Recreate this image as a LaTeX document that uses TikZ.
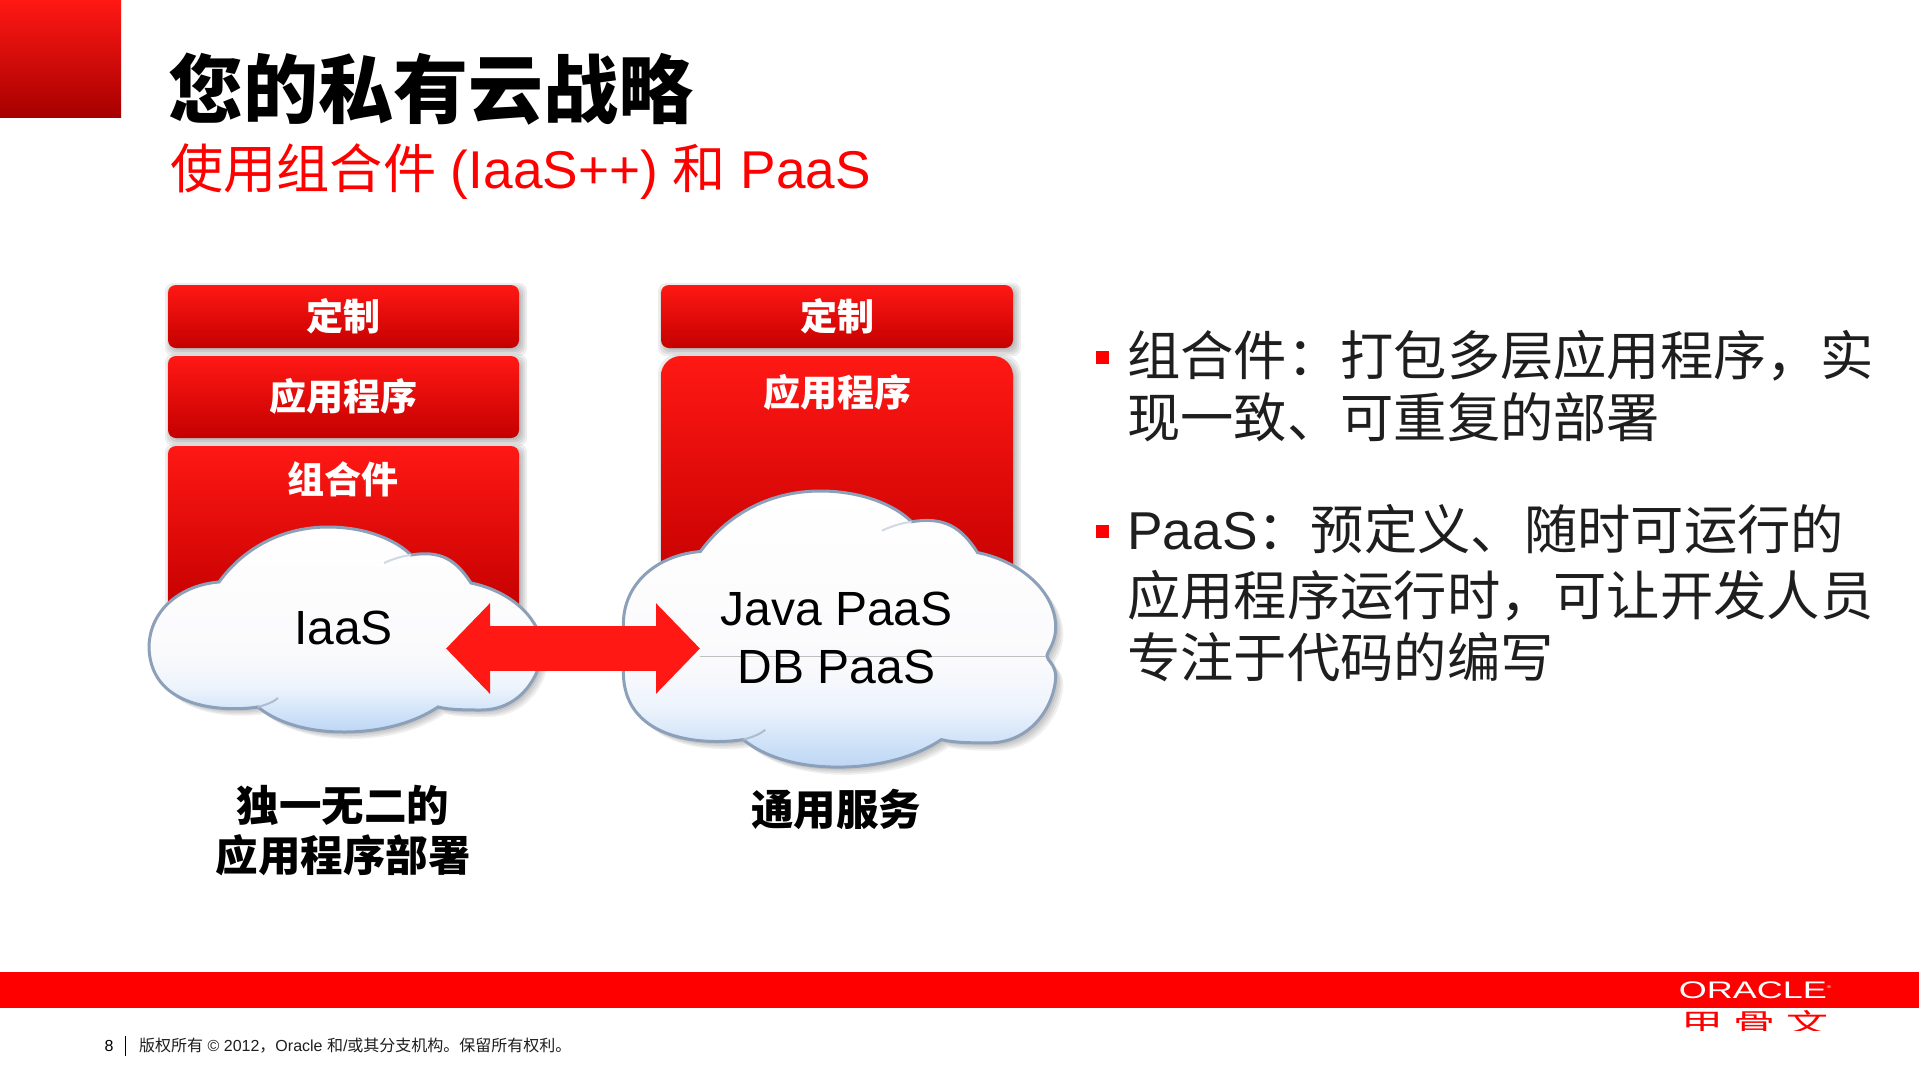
\documentclass[tikz,border=0pt]{standalone}
\usepackage{fontspec}
\setmainfont{Liberation Sans}
\newfontfamily\cjk{Noto Sans CJK SC}
\usepackage{tikz}
\usetikzlibrary{arrows.meta}

\definecolor{oraclered}{RGB}{255,0,0}
\definecolor{boxtop}{RGB}{255,24,20}
\definecolor{boxbottom}{RGB}{196,0,0}
\definecolor{cloudline}{RGB}{140,160,185}
\definecolor{bodytext}{RGB}{30,30,30}
\definecolor{cloudblue}{RGB}{190,215,245}
\definecolor{cloudmid}{RGB}{205,225,248}
\definecolor{cloudpale}{RGB}{238,244,252}
\definecolor{cloudwhite}{RGB}{250,250,252}

\pgfdeclareverticalshading{cloudshade}{100bp}{color(0bp)=(cloudblue);color(25bp)=(cloudblue);color(29bp)=(cloudmid);color(36bp)=(cloudpale);color(44bp)=(cloudwhite);color(75bp)=(white);color(100bp)=(white)}

\tikzset{
  redbox/.style={rounded corners=8pt,top color=boxtop,bottom color=boxbottom,draw=none},
  boxlabel/.style={text=white,font=\cjk\bfseries\fontsize{37}{37}\selectfont},
  cloudbody/.style={shading=cloudshade,draw=cloudline,line width=3pt},
  cloudlabel/.style={text=black,font=\fontsize{48}{48}\selectfont},
  caption/.style={text=black,font=\cjk\bfseries\fontsize{42.5}{42.5}\selectfont},
  bullettext/.style={anchor=west,inner sep=0pt,text=bodytext,font=\cjk\fontsize{53.3}{53.3}\selectfont},
  bulletmark/.style={fill=oraclered,inner sep=0pt,minimum size=13pt},
  linkarrow/.style={draw=boxtop,line width=45pt,{Triangle[length=44pt,width=88pt]}-{Triangle[length=44pt,width=88pt]}}
}

% corners of box: x1,y1,x2,y2,radius
\newcommand{\boxshadow}[5]{
  \foreach \g in {0,2,4,6}
    \fill[black,opacity=.07,rounded corners=#5] (#1+3-\g,#2+4-\g) rectangle (#3+2+\g,#4+2+\g);
}
% up stretch, down stretch, notch
\newcommand{\cloudpath}[3]{
  (-126,-68-#1) .. controls (-99,-105-#1) and (-59,-123-#1) .. (-17,-123-#1)
  .. controls (21,-123-#1) and (51,-110-#1) .. (66,-95-#1)
  .. controls (96,-100-#1) and (111,-90-#1) .. (126,-67-#1)
  .. controls (161,-60-#1) and (196,-35-#1) .. (197,-#1)
  .. controls (197,-#1*.4) and (197-#3,-4) .. (197-#3,0)
  .. controls (197-#3,4) and (197,#2*.4) .. (197,#2)
  .. controls (196,25+#2) and (176,60+#2) .. (136,60+#2)
  .. controls (122,60+#2) and (105,60+#2) .. (93,57+#2)
  .. controls (66,75+#2) and (31,82+#2) .. (-1,82+#2)
  .. controls (-39,82+#2) and (-69,72+#2) .. (-87,57+#2)
  .. controls (-119,62+#2) and (-194,60+#2) .. (-196,-2+#2)
  -- (-196,-2-#1)
  .. controls (-196,-40-#1) and (-164,-65-#1) .. (-126,-68-#1) -- cycle
}
\newcommand{\cloudfull}[3]{
  \foreach \d in {1,2.5,4,5.5,7}
    \fill[black,opacity=.06,shift={(\d,\d)}] \cloudpath{#1}{#2}{#3};
  \path[cloudbody] \cloudpath{#1}{#2}{#3};
  \draw[cloudline!40,line width=2pt] (39,-87-#1) .. controls (48,-91-#1) and (57,-94-#1) .. (66,-95-#1);
  \draw[cloudline!70,line width=2pt] (-67,48+#2) .. controls (-73,53+#2) and (-80,55+#2) .. (-87,57+#2);
}

\begin{document}
\begin{tikzpicture}[x=1pt,y=-1pt]
  \useasboundingbox (0,0) rectangle (1919,1079);
  \fill[white] (0,0) rectangle (1919,1079);

  % header
  \fill[top color=boxtop,bottom color=boxbottom!85!black] (0,0) rectangle (121,117);
  \draw (168,89) node[anchor=west,inner sep=0pt,font=\cjk\bfseries\fontsize{75}{75}\selectfont] (title) {您的私有云战略};
  \draw (170,171.5) node[anchor=west,inner sep=0pt,text=oraclered,font=\fontsize{53.2}{53.2}\selectfont] (subtitle) {{\cjk 使用组合件} (IaaS++) {\cjk 和} PaaS};

  % left stack
  \boxshadow{168}{285}{519}{348}{8pt}
  \boxshadow{168}{356}{519}{438}{8pt}
  \boxshadow{168}{446}{519}{612}{8pt}
  \draw (343.5,316.5) node[redbox,minimum width=351pt,minimum height=63pt] (customleft) {};
  \draw (343.5,397) node[redbox,minimum width=351pt,minimum height=82pt] (appleft) {};
  \draw (343.5,529) node[redbox,minimum width=351pt,minimum height=166pt] (assembly) {};
  \draw (343,316) node[boxlabel] (customlefttext) {定制};
  \draw (343,396) node[boxlabel] (applefttext) {应用程序};
  \draw (343,479) node[boxlabel] (assemblytext) {组合件};

  % right stack
  \boxshadow{661}{285}{1013}{348}{8pt}
  \boxshadow{661}{356}{1013}{590}{20pt}
  \draw (837,316.5) node[redbox,minimum width=352pt,minimum height=63pt] (customright) {};
  \draw (837,473) node[redbox,rounded corners=20pt,minimum width=352pt,minimum height=234pt] (appright) {};
  \draw (837,316) node[boxlabel] (customrighttext) {定制};
  \draw (837,392.5) node[boxlabel] (apprighttext) {应用程序};

  % clouds
  \begin{scope}[shift={(345,650)}]
    \cloudfull{0}{0}{0}
  \end{scope}
  \begin{scope}[shift={(839,656)},scale=1.1]
    \cloudfull{27}{19}{8}
  \end{scope}
  \coordinate (seamleft) at (700,656);
  \coordinate (seamright) at (1046,656);
  \draw[black!25,line width=1pt] (seamleft) -- (seamright);
  \draw (343.5,628) node[cloudlabel] (iaas) {IaaS};
  \draw (836.5,609) node[cloudlabel] (javapaas) {Java PaaS};
  \draw (836.5,667) node[cloudlabel] (dbpaas) {DB PaaS};

  \coordinate (arrowleft) at (446,648.5);
  \coordinate (arrowright) at (700,648.5);
  \draw[linkarrow] (arrowleft) -- (arrowright);

  % captions
  \draw (343,805) node[caption] (uniqueone) {独一无二的};
  \draw (343,855.5) node[caption] (uniquetwo) {应用程序部署};
  \draw (836,809) node[caption] (shared) {通用服务};

  % bullets
  \draw (1102,357) node[bulletmark] (markone) {};
  \draw (1102,531) node[bulletmark] (marktwo) {};
  \draw (1127,356) node[bullettext] (lineone) {组合件：打包多层应用程序，实};
  \draw (1127,417) node[bullettext] (linetwo) {现一致、可重复的部署};
  \draw (1127,529) node[bullettext] (linethree) {{\fontspec{Liberation Sans}PaaS}：预定义、随时可运行的};
  \draw (1127,596) node[bullettext] (linefour) {应用程序运行时，可让开发人员};
  \draw (1127,657) node[bullettext] (linefive) {专注于代码的编写};

  % footer
  \fill[oraclered] (0,971.5) rectangle (1919,1007.5);
  \draw (1755,990) node[text=white,xscale=1.5,transform shape,inner sep=0pt,font=\fontsize{24}{24}\selectfont] (oracle) {ORACLE\raisebox{10pt}{\fontsize{4}{4}\selectfont ®}};
  \begin{scope}
    \clip (1670,1009) rectangle (1840,1030);
    \draw (1755,1022.5) node[text=oraclered,yscale=.62,transform shape,inner sep=0pt,font=\cjk\fontsize{42}{42}\selectfont] (oraclecn) {甲\hspace{11pt}骨\hspace{11pt}文};
  \end{scope}
  \draw (109,1046) node[inner sep=0pt,font=\fontsize{16}{16}\selectfont] (pagenum) {8};
  \coordinate (bartop) at (125,1036);
  \coordinate (barbottom) at (125,1056);
  \draw[black,line width=1pt] (bartop) -- (barbottom);
  \draw (139,1046) node[anchor=west,inner sep=0pt,text=bodytext,font=\fontsize{16}{16}\selectfont] (copyright) {{\cjk 版权所有} © 2012{\cjk ，}Oracle {\cjk 和}/{\cjk 或其分支机构。保留所有权利。}};
\end{tikzpicture}
\end{document}
